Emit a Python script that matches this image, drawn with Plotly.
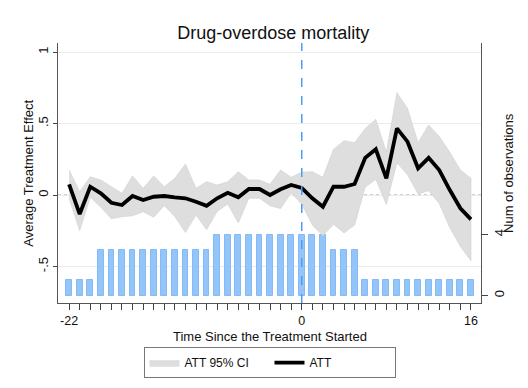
import plotly.graph_objects as go

# ---- data ----
event_time = list(range(-22, 17))
att = [0.075, -0.133, 0.058, 0.012, -0.054, -0.07, -0.007, -0.035, -0.012, -0.007, -0.016,
       -0.023, -0.047, -0.075, -0.023, 0.016, -0.016, 0.042, 0.042, 0.0, 0.04, 0.07,
       0.05, -0.023, -0.082, 0.058, 0.058, 0.077, 0.26, 0.32, 0.117, 0.466, 0.373,
       0.187, 0.26, 0.175, 0.035, -0.093, -0.17]
ci_upper = [0.175, 0.023, 0.128, 0.105, 0.058, 0.012, 0.133, 0.047, 0.133, 0.058, 0.117,
            0.217, 0.047, 0.093, 0.07, 0.093, 0.163, 0.105, 0.105, 0.075, 0.175, 0.124,
            0.16, 0.163, 0.124, 0.32, 0.38, 0.366, 0.466, 0.53, 0.30, 0.716, 0.606,
            0.366, 0.49, 0.41, 0.30, 0.175, 0.117]
ci_lower = [-0.025, -0.25, -0.015, -0.085, -0.166, -0.152, -0.145, -0.117, -0.155, -0.075, -0.15,
            -0.262, -0.14, -0.243, -0.115, -0.063, -0.195, -0.022, -0.022, -0.075, -0.095, 0.015,
            -0.065, -0.21, -0.285, -0.205, -0.265, -0.21, 0.055, 0.11, -0.066, 0.225, 0.142,
            0.008, 0.03, -0.06, -0.228, -0.36, -0.46]
n_obs = [1, 1, 1, 3, 3, 3, 3, 3, 3, 3, 3, 3, 3, 3, 4, 4, 4, 4, 4, 4, 4, 4,
         4, 4, 4, 3, 3, 3, 1, 1, 1, 1, 1, 1, 1, 1, 1, 1, 1]
x_labels = {-22: "-22", 0: "0", 16: "16"}
y_tickvals = [-0.5, 0, 0.5, 1]
y_ticktext = ["-.5", "0", ".5", "1"]

FONT = "Liberation Sans, Arial, Helvetica, sans-serif"

fig = go.Figure()

# bars: number of observations (right axis)
fig.add_trace(go.Bar(
    x=event_time, y=n_obs, width=0.55, yaxis="y",
    marker=dict(color="#93c5fb", line=dict(color="#84bbf6", width=1)),
    showlegend=False, hoverinfo="skip"))

# CI band
fig.add_trace(go.Scatter(
    x=event_time + event_time[::-1], y=ci_upper + ci_lower[::-1],
    fill="toself", fillcolor="#dedede", mode="lines",
    line=dict(color="#d0d0d0", width=0.6), yaxis="y2",
    name="ATT 95% CI"))

# ATT line
fig.add_trace(go.Scatter(
    x=event_time, y=att, mode="lines", yaxis="y2",
    line=dict(color="black", width=3.8), name="ATT"))

# The page body has an 8px margin, so the figure is 8px smaller than the window
fig.update_layout(
    width=520, height=380,
    margin=dict(l=50, r=47, t=35, b=85, autoexpand=False),
    paper_bgcolor="white", plot_bgcolor="white",
    font=dict(family=FONT, size=13, color="#111"),
    title=dict(text="Drug-overdose mortality", x=0.51, xanchor="center",
               y=1 - 25 / 380, yanchor="middle",
               font=dict(size=18, color="#111")),
    bargap=0,
    xaxis=dict(
        range=[-23.05, 16.95], automargin=False,
        tickvals=event_time,
        ticktext=[x_labels.get(t, "") for t in event_time],
        ticks="outside", ticklen=6, tickcolor="#444",
        showline=True, linecolor="#555", linewidth=1,
        showgrid=False, zeroline=False,
        tickfont=dict(size=12.5)),
    yaxis=dict(
        side="right", range=[-0.48, 16.57], automargin=False,
        tickvals=[0, 4], ticktext=["0", "4"], tickangle=-90,
        ticks="outside", ticklen=6, tickcolor="#444",
        showline=True, linecolor="#555", linewidth=1,
        showgrid=False, zeroline=False,
        tickfont=dict(size=13)),
    yaxis2=dict(
        side="left", overlaying="y", range=[-0.755, 1.063], automargin=False,
        tickvals=y_tickvals, ticktext=y_ticktext, tickangle=-90,
        ticks="outside", ticklen=4, tickcolor="#444",
        showline=True, linecolor="#555", linewidth=1,
        showgrid=True, gridcolor="#ebebeb", gridwidth=1, zeroline=False,
        tickfont=dict(size=13)),
    legend=dict(
        orientation="h", x=0.5, xanchor="center", y=-0.17, yanchor="top",
        bordercolor="#777", borderwidth=1, font=dict(size=12),
        traceorder="normal", entrywidth=80),
    shapes=[
        dict(type="line", xref="paper", yref="y2", x0=0, x1=1, y0=0, y1=0,
             line=dict(color="#999", width=1, dash="dot"), layer="below"),
        dict(type="line", xref="x", yref="paper", x0=0, x1=0, y0=0, y1=1,
             line=dict(color="#4a9df7", width=1.5, dash="dash")),
    ],
    annotations=[
        dict(text="Average Treatment Effect", xref="paper", yref="paper",
             x=-0.0715, y=0.5, xanchor="center", yanchor="middle",
             textangle=-90, showarrow=False, font=dict(size=13)),
        dict(text="Num of observations", xref="paper", yref="paper",
             x=1.0638, y=0.5, xanchor="center", yanchor="middle",
             textangle=-90, showarrow=False, font=dict(size=13)),
        dict(text="Time Since the Treatment Started", xref="paper", yref="paper",
             x=0.5, y=-0.127, xanchor="center", yanchor="middle",
             showarrow=False, font=dict(size=13)),
    ],
)

fig.write_html("out.html")
